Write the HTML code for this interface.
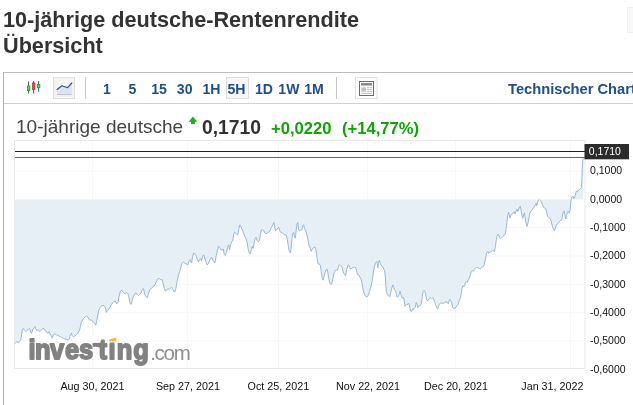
<!DOCTYPE html>
<html><head><meta charset="utf-8"><title>10-jährige deutsche-Rentenrendite</title>
<style>
html,body{margin:0;padding:0;background:#fff;}
body{width:633px;height:405px;overflow:hidden;position:relative;font-family:"Liberation Sans",sans-serif;}
.abs{position:absolute;white-space:nowrap;}
h1{position:absolute;left:3px;top:7.1px;margin:0;font-size:21.65px;line-height:26px;font-weight:bold;color:#333;white-space:nowrap;letter-spacing:0px;}
.box{position:absolute;left:3px;top:72px;width:640px;height:340px;border:1px solid #b4b4b4;border-top:1px solid #bcbcbc;box-sizing:border-box;}
.tbline{position:absolute;left:4px;top:103px;width:629px;height:1px;background:#d0d0d0;}
.tf{position:absolute;top:80.5px;font-size:14.1px;line-height:16px;font-weight:bold;color:#1f4e8f;white-space:nowrap;}
.sep{position:absolute;top:77px;width:1px;height:21.5px;background:#c8c8c8;}
.btn{position:absolute;box-sizing:border-box;border:1px solid #d6d6d6;background:#f6f6f6;}
.name{position:absolute;left:16px;top:115.8px;font-size:19.05px;line-height:22px;color:#444;white-space:nowrap;}
.val{position:absolute;left:202px;top:117.4px;font-size:19.3px;line-height:22px;font-weight:bold;color:#333;white-space:nowrap;}
.chg{position:absolute;top:119.3px;font-size:16.6px;line-height:19px;font-weight:bold;color:#0ea600;white-space:nowrap;}
.yl{position:absolute;left:590px;font-size:10.5px;line-height:13px;color:#111;white-space:nowrap;}
.xl{position:absolute;top:379px;font-size:10.75px;line-height:14px;color:#111;white-space:nowrap;transform:translateX(-50%);}
.logo{position:absolute;left:27.6px;top:332.8px;font-size:30px;line-height:36px;font-weight:bold;color:#828282;letter-spacing:-1.45px;white-space:nowrap;-webkit-text-stroke:1.6px #828282;}
.logo span{font-weight:normal;font-size:20.5px;letter-spacing:-1.2px;color:#8e8e8e;-webkit-text-stroke:0;margin-left:0.8px;}
</style></head><body>
<h1>10-jährige deutsche-Rentenrendite<br>Übersicht</h1>
<div class="box"></div>
<div class="abs" style="left:627px;top:7px;width:10px;height:24px;background:#f8f8f8;border:1px solid #f1f1f1;"></div>
<div class="tbline"></div>

<svg class="abs" style="left:0;top:0" width="633" height="405" viewBox="0 0 633 405">
  <!-- chart frame -->
  <rect x="14.5" y="140.5" width="570.5" height="228" fill="#fff" stroke="#e9e9e9" stroke-width="1"/>
  <g stroke="#f7f7f7" stroke-width="1">
    <line x1="92.5" y1="141" x2="92.5" y2="368"/>
    <line x1="187.5" y1="141" x2="187.5" y2="368"/>
    <line x1="278.5" y1="141" x2="278.5" y2="368"/>
    <line x1="367.5" y1="141" x2="367.5" y2="368"/>
    <line x1="455.5" y1="141" x2="455.5" y2="368"/>
    <line x1="570.5" y1="141" x2="570.5" y2="368"/>
    <line x1="15" y1="171" x2="584" y2="171"/>
    <line x1="15" y1="227.7" x2="584" y2="227.7"/>
    <line x1="15" y1="256" x2="584" y2="256"/>
    <line x1="15" y1="284.3" x2="584" y2="284.3"/>
    <line x1="15" y1="312.7" x2="584" y2="312.7"/>
    <line x1="15" y1="341" x2="584" y2="341"/>
  </g>
  <path d="M14.5 343.9 L15.5 342.7 L16.6 341.7 L18.3 342.4 L19.6 341.4 L20.8 339.8 L21.6 334.8 L22.4 329.8 L23.3 328.6 L24.6 330.3 L25.8 331.5 L26.6 330.6 L28.2 329.5 L29.6 328.6 L30.7 332.3 L31.6 333.4 L32.7 329.8 L34.0 327.8 L34.9 326.5 L35.7 328.5 L36.9 330.6 L38.2 329.8 L39.5 331.5 L40.7 330.6 L42.3 329.0 L44.0 328.5 L45.2 330.6 L46.5 332.3 L47.8 333.1 L49.0 331.5 L49.8 333.4 L51.1 335.6 L52.3 338.1 L53.4 334.8 L54.8 333.9 L56.4 334.8 L58.1 335.6 L59.8 336.4 L61.4 337.3 L63.1 338.1 L64.7 338.9 L66.4 339.4 L68.0 339.8 L69.4 338.9 L70.5 334.8 L71.4 333.1 L72.2 335.6 L73.3 336.8 L74.7 336.1 L76.3 334.8 L78.0 333.1 L79.3 330.6 L80.5 326.5 L81.3 322.3 L82.6 319.9 L83.8 318.2 L85.0 316.9 L86.3 316.2 L87.6 316.9 L88.8 319.0 L89.9 320.3 L91.3 319.9 L92.4 320.7 L93.7 322.3 L94.9 324.0 L95.9 325.2 L96.9 319.9 L97.9 314.9 L98.7 310.7 L99.6 308.2 L100.9 306.6 L102.0 305.8 L103.2 305.3 L104.5 306.3 L105.7 309.1 L106.5 312.4 L107.5 310.7 L108.7 309.1 L109.8 307.4 L111.2 304.9 L112.5 302.9 L113.6 301.6 L114.1 301.7 L115.3 301.0 L116.6 303.8 L117.9 302.7 L119.1 296.4 L120.3 291.4 L121.6 290.2 L122.9 291.7 L124.1 293.4 L125.2 293.9 L126.6 292.7 L127.9 293.4 L129.0 298.0 L130.2 303.8 L131.2 304.3 L132.4 299.7 L133.5 296.4 L134.9 293.4 L136.2 293.1 L137.3 294.4 L138.5 295.6 L139.8 294.4 L141.2 292.7 L142.3 289.8 L143.5 288.4 L144.5 293.1 L145.6 296.4 L147.3 297.7 L148.4 293.9 L149.8 289.8 L151.4 288.1 L153.1 286.9 L154.8 285.1 L156.4 281.5 L157.7 279.0 L158.9 278.5 L160.6 279.5 L162.2 279.8 L163.4 284.8 L164.4 288.9 L165.5 291.1 L166.7 289.8 L168.0 288.9 L169.3 289.4 L170.5 288.1 L171.7 287.3 L173.0 289.8 L174.7 292.2 L176.0 288.1 L177.1 281.5 L178.3 275.7 L179.6 271.5 L181.0 267.4 L182.1 263.2 L183.3 262.1 L184.6 263.2 L186.3 264.0 L187.9 264.9 L189.2 260.7 L189.9 259.6 L190.9 262.4 L191.6 262.9 L192.6 256.6 L193.7 252.9 L194.9 254.1 L196.2 255.8 L197.5 259.9 L198.4 261.9 L199.5 259.9 L200.7 258.6 L201.5 260.7 L202.5 256.6 L203.7 254.9 L204.8 258.2 L206.2 262.4 L207.0 264.9 L208.2 264.0 L209.6 260.6 L210.8 258.1 L211.9 257.7 L213.3 261.4 L214.9 263.0 L216.1 256.4 L217.4 250.6 L218.6 246.1 L219.6 247.3 L220.7 249.8 L221.9 250.1 L223.2 248.9 L224.4 254.8 L225.2 255.6 L226.5 252.3 L227.9 246.5 L228.7 244.8 L229.5 249.8 L230.7 244.8 L231.8 241.5 L232.8 240.7 L233.7 234.0 L234.5 232.4 L235.7 233.2 L236.8 234.5 L237.8 234.9 L239.0 228.2 L239.8 224.9 L241.0 226.6 L242.3 229.9 L243.4 232.4 L244.8 236.5 L246.1 239.0 L247.3 243.1 L248.1 248.9 L249.3 253.1 L250.2 253.9 L251.4 249.8 L252.2 246.5 L253.1 248.4 L254.1 243.1 L255.2 238.2 L256.1 237.3 L257.2 240.7 L258.0 241.8 L259.4 240.7 L260.5 234.0 L261.4 229.9 L262.7 229.5 L263.8 230.7 L265.0 233.2 L266.3 233.5 L267.7 232.9 L268.8 231.5 L270.0 231.2 L271.3 227.4 L272.6 225.2 L273.8 222.4 L274.6 226.6 L275.5 230.7 L276.6 229.9 L277.9 228.2 L278.8 227.4 L279.9 231.5 L281.3 232.4 L282.6 233.2 L283.7 234.0 L284.9 234.9 L286.2 235.2 L287.4 239.8 L288.4 246.5 L289.2 251.4 L290.4 252.8 L291.2 248.1 L292.0 238.2 L292.9 233.2 L293.7 232.4 L294.5 237.3 L295.4 238.2 L296.2 229.9 L297.0 224.1 L297.8 222.4 L298.7 229.9 L299.5 230.7 L300.8 230.2 L302.0 229.9 L302.8 225.7 L303.6 224.6 L304.5 228.2 L305.8 230.8 L306.9 234.9 L307.9 239.9 L309.1 245.7 L310.3 248.2 L311.3 251.3 L312.4 249.1 L313.6 247.5 L314.9 247.0 L315.7 249.1 L316.6 255.0 L317.4 260.8 L318.2 264.1 L319.5 264.1 L320.4 265.7 L321.2 271.5 L322.0 277.3 L323.2 280.2 L324.0 276.5 L325.2 272.4 L326.2 269.9 L327.0 269.0 L327.8 272.4 L328.7 278.2 L329.8 283.1 L331.0 284.5 L332.0 283.1 L333.1 277.3 L334.3 272.4 L335.1 270.7 L336.5 269.9 L337.6 270.2 L338.4 266.6 L339.4 264.6 L340.6 265.7 L341.8 266.6 L342.6 269.9 L343.9 273.5 L345.6 275.7 L346.7 269.9 L347.7 265.7 L348.6 264.9 L349.7 267.4 L350.9 269.0 L352.2 267.9 L353.4 267.4 L354.7 266.9 L355.9 268.2 L356.9 272.4 L357.7 274.9 L358.8 275.2 L360.0 277.3 L361.0 279.0 L361.8 282.3 L362.7 287.3 L363.5 291.4 L364.7 294.8 L366.0 296.7 L366.8 297.2 L368.0 295.6 L369.3 292.3 L370.5 288.1 L371.6 284.0 L372.6 278.2 L373.4 272.4 L374.3 267.4 L375.4 263.2 L376.6 261.6 L377.4 264.1 L377.9 268.2 L378.4 263.2 L379.2 260.3 L379.9 262.4 L380.9 264.9 L382.1 266.2 L383.2 267.9 L384.6 270.7 L385.4 278.2 L385.9 286.5 L386.5 292.3 L387.5 294.8 L388.7 296.1 L389.9 296.4 L390.8 292.3 L391.7 288.2 L392.8 284.9 L393.6 287.3 L394.6 289.8 L395.5 290.7 L396.3 294.0 L397.1 297.3 L398.3 296.5 L399.1 294.8 L400.0 291.2 L400.8 294.0 L401.6 296.5 L402.4 298.1 L403.6 297.3 L404.3 301.4 L404.9 306.4 L405.8 304.8 L406.6 303.9 L407.4 304.8 L408.2 303.4 L409.1 303.9 L409.9 308.1 L410.7 311.1 L411.6 311.4 L412.7 308.9 L413.7 309.4 L414.5 308.1 L415.4 307.2 L416.2 302.3 L416.9 303.1 L417.7 307.7 L418.5 306.1 L419.5 305.6 L420.7 305.2 L421.5 303.1 L422.3 296.5 L423.2 291.5 L424.0 290.2 L424.8 291.2 L425.7 294.8 L426.5 298.9 L427.3 301.1 L428.1 300.1 L429.3 298.9 L430.3 297.8 L431.5 298.4 L432.5 297.8 L433.4 298.4 L434.4 301.4 L435.6 304.8 L436.8 308.1 L437.8 308.9 L438.6 306.4 L439.4 303.9 L440.6 303.1 L441.7 303.4 L443.1 303.1 L444.4 302.8 L445.6 302.3 L446.4 301.4 L447.5 303.1 L448.4 303.9 L449.2 300.1 L450.0 299.4 L451.0 301.4 L451.9 303.9 L452.7 307.2 L453.5 308.4 L454.7 308.1 L456.0 307.2 L457.2 305.6 L458.3 303.9 L459.3 300.6 L460.5 297.3 L461.3 293.1 L462.1 288.2 L463.0 285.7 L463.8 286.8 L464.6 285.7 L465.5 282.4 L466.3 281.5 L467.1 282.4 L468.3 279.9 L469.3 278.2 L470.4 274.9 L471.3 271.6 L472.4 270.8 L473.4 271.3 L474.2 269.6 L475.4 268.3 L476.6 267.4 L477.9 267.9 L479.1 268.3 L480.4 269.1 L481.5 267.4 L482.9 266.6 L484.0 265.8 L485.8 257.2 L486.6 253.0 L487.8 251.4 L488.8 253.4 L490.0 252.2 L491.3 251.4 L492.4 250.6 L493.6 251.1 L494.6 251.4 L495.4 246.4 L496.3 239.8 L497.1 235.6 L497.9 234.0 L498.7 234.8 L499.6 237.3 L500.4 238.4 L501.6 237.8 L502.9 236.5 L504.0 235.6 L505.2 234.0 L506.0 229.8 L506.9 222.4 L507.7 215.7 L508.5 212.4 L509.4 214.9 L509.9 217.9 L510.7 215.7 L511.8 214.1 L513.2 213.2 L514.3 211.6 L515.2 214.1 L516.2 210.8 L517.0 209.1 L517.8 211.6 L518.6 209.9 L519.5 206.9 L520.3 206.3 L521.1 210.8 L522.0 215.7 L522.8 218.2 L523.6 214.9 L524.4 212.9 L525.1 217.4 L525.9 222.4 L526.9 226.5 L527.8 224.0 L528.6 219.9 L529.4 215.7 L530.2 212.4 L531.4 210.8 L532.7 209.1 L533.9 207.4 L535.2 205.0 L536.1 203.3 L536.7 205.8 L537.5 202.5 L538.4 200.3 L539.4 199.6 L540.5 200.8 L541.7 203.0 L542.7 205.0 L543.5 207.4 L544.7 207.9 L545.8 209.1 L546.7 212.4 L547.5 216.2 L548.5 217.4 L549.7 218.2 L550.8 219.9 L551.6 223.2 L552.5 226.5 L553.5 229.0 L554.3 230.7 L555.1 229.0 L556.0 225.7 L557.1 224.0 L558.3 222.9 L559.3 221.5 L560.4 220.7 L561.6 220.2 L562.4 216.6 L563.3 211.6 L564.1 210.8 L564.9 214.9 L565.7 219.0 L566.6 215.7 L567.4 212.4 L568.2 211.3 L569.2 213.2 L570.0 210.8 L570.7 203.3 L571.5 197.5 L572.9 196.0 L573.8 198.5 L574.8 197.0 L575.6 193.3 L576.3 191.1 L577.3 191.9 L578.2 190.4 L579.3 189.6 L580.3 188.9 L581.2 187.4 L581.8 181.5 L582.2 169.6 L582.7 160.7 L583.3 157.5 L583.3 199.6 L14.5 199.6 Z" fill="#e5edf6" fill-opacity="0.95" stroke="none"/>
  <path d="M14.5 343.9 L15.5 342.7 L16.6 341.7 L18.3 342.4 L19.6 341.4 L20.8 339.8 L21.6 334.8 L22.4 329.8 L23.3 328.6 L24.6 330.3 L25.8 331.5 L26.6 330.6 L28.2 329.5 L29.6 328.6 L30.7 332.3 L31.6 333.4 L32.7 329.8 L34.0 327.8 L34.9 326.5 L35.7 328.5 L36.9 330.6 L38.2 329.8 L39.5 331.5 L40.7 330.6 L42.3 329.0 L44.0 328.5 L45.2 330.6 L46.5 332.3 L47.8 333.1 L49.0 331.5 L49.8 333.4 L51.1 335.6 L52.3 338.1 L53.4 334.8 L54.8 333.9 L56.4 334.8 L58.1 335.6 L59.8 336.4 L61.4 337.3 L63.1 338.1 L64.7 338.9 L66.4 339.4 L68.0 339.8 L69.4 338.9 L70.5 334.8 L71.4 333.1 L72.2 335.6 L73.3 336.8 L74.7 336.1 L76.3 334.8 L78.0 333.1 L79.3 330.6 L80.5 326.5 L81.3 322.3 L82.6 319.9 L83.8 318.2 L85.0 316.9 L86.3 316.2 L87.6 316.9 L88.8 319.0 L89.9 320.3 L91.3 319.9 L92.4 320.7 L93.7 322.3 L94.9 324.0 L95.9 325.2 L96.9 319.9 L97.9 314.9 L98.7 310.7 L99.6 308.2 L100.9 306.6 L102.0 305.8 L103.2 305.3 L104.5 306.3 L105.7 309.1 L106.5 312.4 L107.5 310.7 L108.7 309.1 L109.8 307.4 L111.2 304.9 L112.5 302.9 L113.6 301.6 L114.1 301.7 L115.3 301.0 L116.6 303.8 L117.9 302.7 L119.1 296.4 L120.3 291.4 L121.6 290.2 L122.9 291.7 L124.1 293.4 L125.2 293.9 L126.6 292.7 L127.9 293.4 L129.0 298.0 L130.2 303.8 L131.2 304.3 L132.4 299.7 L133.5 296.4 L134.9 293.4 L136.2 293.1 L137.3 294.4 L138.5 295.6 L139.8 294.4 L141.2 292.7 L142.3 289.8 L143.5 288.4 L144.5 293.1 L145.6 296.4 L147.3 297.7 L148.4 293.9 L149.8 289.8 L151.4 288.1 L153.1 286.9 L154.8 285.1 L156.4 281.5 L157.7 279.0 L158.9 278.5 L160.6 279.5 L162.2 279.8 L163.4 284.8 L164.4 288.9 L165.5 291.1 L166.7 289.8 L168.0 288.9 L169.3 289.4 L170.5 288.1 L171.7 287.3 L173.0 289.8 L174.7 292.2 L176.0 288.1 L177.1 281.5 L178.3 275.7 L179.6 271.5 L181.0 267.4 L182.1 263.2 L183.3 262.1 L184.6 263.2 L186.3 264.0 L187.9 264.9 L189.2 260.7 L189.9 259.6 L190.9 262.4 L191.6 262.9 L192.6 256.6 L193.7 252.9 L194.9 254.1 L196.2 255.8 L197.5 259.9 L198.4 261.9 L199.5 259.9 L200.7 258.6 L201.5 260.7 L202.5 256.6 L203.7 254.9 L204.8 258.2 L206.2 262.4 L207.0 264.9 L208.2 264.0 L209.6 260.6 L210.8 258.1 L211.9 257.7 L213.3 261.4 L214.9 263.0 L216.1 256.4 L217.4 250.6 L218.6 246.1 L219.6 247.3 L220.7 249.8 L221.9 250.1 L223.2 248.9 L224.4 254.8 L225.2 255.6 L226.5 252.3 L227.9 246.5 L228.7 244.8 L229.5 249.8 L230.7 244.8 L231.8 241.5 L232.8 240.7 L233.7 234.0 L234.5 232.4 L235.7 233.2 L236.8 234.5 L237.8 234.9 L239.0 228.2 L239.8 224.9 L241.0 226.6 L242.3 229.9 L243.4 232.4 L244.8 236.5 L246.1 239.0 L247.3 243.1 L248.1 248.9 L249.3 253.1 L250.2 253.9 L251.4 249.8 L252.2 246.5 L253.1 248.4 L254.1 243.1 L255.2 238.2 L256.1 237.3 L257.2 240.7 L258.0 241.8 L259.4 240.7 L260.5 234.0 L261.4 229.9 L262.7 229.5 L263.8 230.7 L265.0 233.2 L266.3 233.5 L267.7 232.9 L268.8 231.5 L270.0 231.2 L271.3 227.4 L272.6 225.2 L273.8 222.4 L274.6 226.6 L275.5 230.7 L276.6 229.9 L277.9 228.2 L278.8 227.4 L279.9 231.5 L281.3 232.4 L282.6 233.2 L283.7 234.0 L284.9 234.9 L286.2 235.2 L287.4 239.8 L288.4 246.5 L289.2 251.4 L290.4 252.8 L291.2 248.1 L292.0 238.2 L292.9 233.2 L293.7 232.4 L294.5 237.3 L295.4 238.2 L296.2 229.9 L297.0 224.1 L297.8 222.4 L298.7 229.9 L299.5 230.7 L300.8 230.2 L302.0 229.9 L302.8 225.7 L303.6 224.6 L304.5 228.2 L305.8 230.8 L306.9 234.9 L307.9 239.9 L309.1 245.7 L310.3 248.2 L311.3 251.3 L312.4 249.1 L313.6 247.5 L314.9 247.0 L315.7 249.1 L316.6 255.0 L317.4 260.8 L318.2 264.1 L319.5 264.1 L320.4 265.7 L321.2 271.5 L322.0 277.3 L323.2 280.2 L324.0 276.5 L325.2 272.4 L326.2 269.9 L327.0 269.0 L327.8 272.4 L328.7 278.2 L329.8 283.1 L331.0 284.5 L332.0 283.1 L333.1 277.3 L334.3 272.4 L335.1 270.7 L336.5 269.9 L337.6 270.2 L338.4 266.6 L339.4 264.6 L340.6 265.7 L341.8 266.6 L342.6 269.9 L343.9 273.5 L345.6 275.7 L346.7 269.9 L347.7 265.7 L348.6 264.9 L349.7 267.4 L350.9 269.0 L352.2 267.9 L353.4 267.4 L354.7 266.9 L355.9 268.2 L356.9 272.4 L357.7 274.9 L358.8 275.2 L360.0 277.3 L361.0 279.0 L361.8 282.3 L362.7 287.3 L363.5 291.4 L364.7 294.8 L366.0 296.7 L366.8 297.2 L368.0 295.6 L369.3 292.3 L370.5 288.1 L371.6 284.0 L372.6 278.2 L373.4 272.4 L374.3 267.4 L375.4 263.2 L376.6 261.6 L377.4 264.1 L377.9 268.2 L378.4 263.2 L379.2 260.3 L379.9 262.4 L380.9 264.9 L382.1 266.2 L383.2 267.9 L384.6 270.7 L385.4 278.2 L385.9 286.5 L386.5 292.3 L387.5 294.8 L388.7 296.1 L389.9 296.4 L390.8 292.3 L391.7 288.2 L392.8 284.9 L393.6 287.3 L394.6 289.8 L395.5 290.7 L396.3 294.0 L397.1 297.3 L398.3 296.5 L399.1 294.8 L400.0 291.2 L400.8 294.0 L401.6 296.5 L402.4 298.1 L403.6 297.3 L404.3 301.4 L404.9 306.4 L405.8 304.8 L406.6 303.9 L407.4 304.8 L408.2 303.4 L409.1 303.9 L409.9 308.1 L410.7 311.1 L411.6 311.4 L412.7 308.9 L413.7 309.4 L414.5 308.1 L415.4 307.2 L416.2 302.3 L416.9 303.1 L417.7 307.7 L418.5 306.1 L419.5 305.6 L420.7 305.2 L421.5 303.1 L422.3 296.5 L423.2 291.5 L424.0 290.2 L424.8 291.2 L425.7 294.8 L426.5 298.9 L427.3 301.1 L428.1 300.1 L429.3 298.9 L430.3 297.8 L431.5 298.4 L432.5 297.8 L433.4 298.4 L434.4 301.4 L435.6 304.8 L436.8 308.1 L437.8 308.9 L438.6 306.4 L439.4 303.9 L440.6 303.1 L441.7 303.4 L443.1 303.1 L444.4 302.8 L445.6 302.3 L446.4 301.4 L447.5 303.1 L448.4 303.9 L449.2 300.1 L450.0 299.4 L451.0 301.4 L451.9 303.9 L452.7 307.2 L453.5 308.4 L454.7 308.1 L456.0 307.2 L457.2 305.6 L458.3 303.9 L459.3 300.6 L460.5 297.3 L461.3 293.1 L462.1 288.2 L463.0 285.7 L463.8 286.8 L464.6 285.7 L465.5 282.4 L466.3 281.5 L467.1 282.4 L468.3 279.9 L469.3 278.2 L470.4 274.9 L471.3 271.6 L472.4 270.8 L473.4 271.3 L474.2 269.6 L475.4 268.3 L476.6 267.4 L477.9 267.9 L479.1 268.3 L480.4 269.1 L481.5 267.4 L482.9 266.6 L484.0 265.8 L485.8 257.2 L486.6 253.0 L487.8 251.4 L488.8 253.4 L490.0 252.2 L491.3 251.4 L492.4 250.6 L493.6 251.1 L494.6 251.4 L495.4 246.4 L496.3 239.8 L497.1 235.6 L497.9 234.0 L498.7 234.8 L499.6 237.3 L500.4 238.4 L501.6 237.8 L502.9 236.5 L504.0 235.6 L505.2 234.0 L506.0 229.8 L506.9 222.4 L507.7 215.7 L508.5 212.4 L509.4 214.9 L509.9 217.9 L510.7 215.7 L511.8 214.1 L513.2 213.2 L514.3 211.6 L515.2 214.1 L516.2 210.8 L517.0 209.1 L517.8 211.6 L518.6 209.9 L519.5 206.9 L520.3 206.3 L521.1 210.8 L522.0 215.7 L522.8 218.2 L523.6 214.9 L524.4 212.9 L525.1 217.4 L525.9 222.4 L526.9 226.5 L527.8 224.0 L528.6 219.9 L529.4 215.7 L530.2 212.4 L531.4 210.8 L532.7 209.1 L533.9 207.4 L535.2 205.0 L536.1 203.3 L536.7 205.8 L537.5 202.5 L538.4 200.3 L539.4 199.6 L540.5 200.8 L541.7 203.0 L542.7 205.0 L543.5 207.4 L544.7 207.9 L545.8 209.1 L546.7 212.4 L547.5 216.2 L548.5 217.4 L549.7 218.2 L550.8 219.9 L551.6 223.2 L552.5 226.5 L553.5 229.0 L554.3 230.7 L555.1 229.0 L556.0 225.7 L557.1 224.0 L558.3 222.9 L559.3 221.5 L560.4 220.7 L561.6 220.2 L562.4 216.6 L563.3 211.6 L564.1 210.8 L564.9 214.9 L565.7 219.0 L566.6 215.7 L567.4 212.4 L568.2 211.3 L569.2 213.2 L570.0 210.8 L570.7 203.3 L571.5 197.5 L572.9 196.0 L573.8 198.5 L574.8 197.0 L575.6 193.3 L576.3 191.1 L577.3 191.9 L578.2 190.4 L579.3 189.6 L580.3 188.9 L581.2 187.4 L581.8 181.5 L582.2 169.6 L582.7 160.7 L583.3 157.5" fill="none" stroke="#8aacd4" stroke-width="0.85" stroke-linejoin="round"/>
  <line x1="15" y1="151.5" x2="585" y2="151.5" stroke="#222" stroke-width="1"/>
  <line x1="15" y1="157.5" x2="585" y2="157.5" stroke="#ad4a40" stroke-width="1"/>
  <rect x="584.5" y="144" width="44.5" height="15.3" fill="#2b2b2b"/>
  <!-- candle icon -->
  <g>
    <line x1="28.6" y1="81.4" x2="28.6" y2="93.6" stroke="#2a4068" stroke-width="0.9"/><rect x="27.4" y="86" width="2.5" height="4.7" fill="#4fd14f" stroke="#1f9a1f" stroke-width="0.7"/>
    <line x1="33.6" y1="81" x2="33.6" y2="93.6" stroke="#2a4068" stroke-width="0.9"/><rect x="32.4" y="83" width="2.5" height="6.6" fill="#f04a4a" stroke="#c81e1e" stroke-width="0.7"/>
    <line x1="38.6" y1="81" x2="38.6" y2="91.8" stroke="#2a4068" stroke-width="0.9"/><rect x="37.4" y="84.4" width="2.5" height="3.4" fill="#4fd14f" stroke="#1f9a1f" stroke-width="0.7"/>
  </g>
  <!-- line button -->
  <rect x="53.5" y="77.5" width="21" height="21" fill="#f4f4f4" stroke="#dedede"/>
  <path d="M57 89.5 L62 85.8 L67.6 87.7 L71.8 83 L71.8 94.6 L57 94.6 Z" fill="#d9e3f1"/>
  <path d="M57 89.5 L62 85.8 L67.6 87.7 L71.8 83" fill="none" stroke="#3a557f" stroke-width="1.2" stroke-linejoin="round" stroke-linecap="round"/>
  <line x1="57" y1="94.6" x2="71.8" y2="94.6" stroke="#a9b6cc" stroke-width="0.8"/>
  <!-- table button -->
  <rect x="355.5" y="77.5" width="21.5" height="21" fill="#fff" stroke="#e0e0e0"/>
  <rect x="359.5" y="81.5" width="14" height="14" fill="#fff" stroke="#6c6c6c"/>
  <rect x="361" y="83" width="11" height="2.6" fill="#8c8c8c"/>
  <rect x="361.3" y="87.3" width="4.7" height="4.4" fill="#c2c2c2"/>
  <g stroke="#b0b0b0" stroke-width="0.8"><line x1="367" y1="87.7" x2="372" y2="87.7"/><line x1="367" y1="89.7" x2="372" y2="89.7"/><line x1="367" y1="91.7" x2="372" y2="91.7"/><line x1="361.3" y1="93.4" x2="372" y2="93.4"/></g>
</svg>

<div class="sep" style="left:85px"></div>
<div class="tf" style="left:103px">1</div>
<div class="tf" style="left:128.5px">5</div>
<div class="tf" style="left:151.2px">15</div>
<div class="tf" style="left:176.8px">30</div>
<div class="tf" style="left:202.5px">1H</div>
<div class="btn" style="left:226px;top:77px;width:22.5px;height:22px;border-color:#dcdcdc;background:#f7f7f7"></div>
<div class="tf" style="left:227.5px">5H</div>
<div class="tf" style="left:255px">1D</div>
<div class="tf" style="left:278.3px">1W</div>
<div class="tf" style="left:304.2px">1M</div>
<div class="sep" style="left:336px"></div>
<div class="tf" style="left:508px;font-size:14.7px">Technischer Chart</div>

<div class="name">10-jährige deutsche</div>
<svg class="abs" style="left:185px;top:113px" width="16" height="14" viewBox="185 113 16 14"><path d="M192.9 116.6 L197.3 121.7 L194.9 121.7 L194.9 124 L191 124 L191 121.7 L188.6 121.7 Z" fill="#1fb01f"/></svg>
<div class="val">0,1710</div>
<div class="chg" style="left:271px">+0,0220</div>
<div class="chg" style="left:342px">(+14,77%)</div>

<div class="yl" style="top:145px;left:588.8px;color:#fff">0,1710</div>
<div class="yl" style="top:164.3px">0,1000</div>
<div class="yl" style="top:192.7px">0,0000</div>
<div class="yl" style="top:221.0px">-0,1000</div>
<div class="yl" style="top:249.3px">-0,2000</div>
<div class="yl" style="top:277.7px">-0,3000</div>
<div class="yl" style="top:306.0px">-0,4000</div>
<div class="yl" style="top:334.3px">-0,5000</div>
<div class="yl" style="top:362.7px">-0,6000</div>

<div class="xl" style="left:92.4px">Aug 30, 2021</div>
<div class="xl" style="left:187.9px">Sep 27, 2021</div>
<div class="xl" style="left:278.4px">Oct 25, 2021</div>
<div class="xl" style="left:368px">Nov 22, 2021</div>
<div class="xl" style="left:456px">Dec 20, 2021</div>
<div class="xl" style="left:552.4px">Jan 31, 2022</div>

<svg class="abs" style="left:0;top:325px" width="220" height="50" viewBox="0 325 220 50">
  <g transform="scale(0.91,1)"><text x="31.38 38.59 54.91 71.51 86.73 108.24 119.35 128.26 146.51" y="358.8" font-family="Liberation Sans, sans-serif" font-weight="bold" font-size="28" fill="#828282" stroke="#828282" stroke-width="1.8" stroke-linejoin="round">investing</text></g>
  <rect x="92.6" y="342.9" width="8" height="3.9" fill="#828282"/>
  <rect x="108" y="334" width="9.5" height="8.3" fill="#fff"/>
  <path d="M109.2 339.4 L116.2 337.2 L116.4 341.6 L109.2 341.6 Z" fill="#f6bd3d"/>
  <text x="150.2" y="359.6" font-family="Liberation Sans, sans-serif" font-size="20.5" fill="#8e8e8e" letter-spacing="-1.3">.com</text>
</svg>
</body></html>
